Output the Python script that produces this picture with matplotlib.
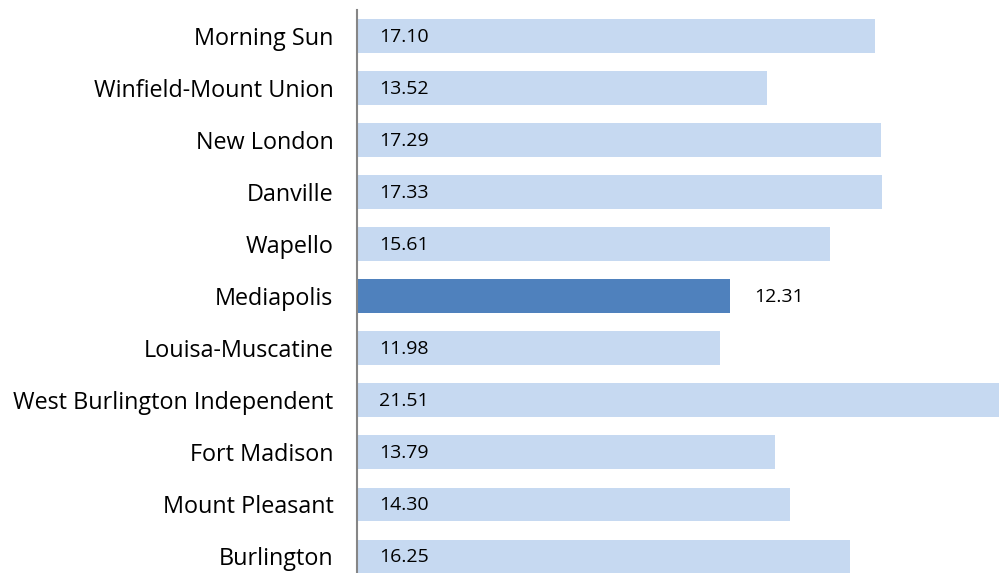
import matplotlib
matplotlib.use("Agg")
import matplotlib.pyplot as plt

districts = ["Morning Sun", "Winfield-Mount Union", "New London", "Danville", "Wapello",
             "Mediapolis", "Louisa-Muscatine", "West Burlington Independent",
             "Fort Madison", "Mount Pleasant", "Burlington"]
values = [17.10, 13.52, 17.29, 17.33, 15.61, 12.31, 11.98, 21.51, 13.79, 14.30, 16.25]
highlight = "Mediapolis"

light = "#C6D9F1"
dark = "#4F81BD"

plt.rcParams['font.family'] = ['Open Sans', 'DejaVu Sans']

W, H = 999, 573
fig = plt.figure(figsize=(W / 100, H / 100), dpi=100)
# axes extends a little past the figure edges, like the cropped original
ax = fig.add_axes([357 / W, (573 - 582.5) / H, 652 / W, 572.5 / H])

ypos = list(range(len(districts)))
colors = [dark if d == highlight else light for d in districts]
ax.barh(ypos, values, height=0.65, color=colors)
ax.set_xlim(0, 21.51)
ax.set_ylim(len(districts) - 0.5, -0.5)

for y, v, d in zip(ypos, values, districts):
    if d == highlight:
        ax.annotate(f"{v:.2f}", (v, y), xytext=(24, -1), textcoords="offset pixels",
                    va="center", ha="left", fontsize=14)
    else:
        ax.annotate(f"{v:.2f}", (0, y), xytext=(22, -1), textcoords="offset pixels",
                    va="center", ha="left", fontsize=14)

ax.set_yticks(ypos)
ax.set_yticklabels(districts, fontsize=16.8)
ax.tick_params(axis="y", length=0, pad=17)
ax.set_xticks([])
for s in ["top", "right", "bottom"]:
    ax.spines[s].set_visible(False)
ax.spines["left"].set_color("#868686")
ax.spines["left"].set_linewidth(1.5)

fig.savefig("out.png", dpi=100)
